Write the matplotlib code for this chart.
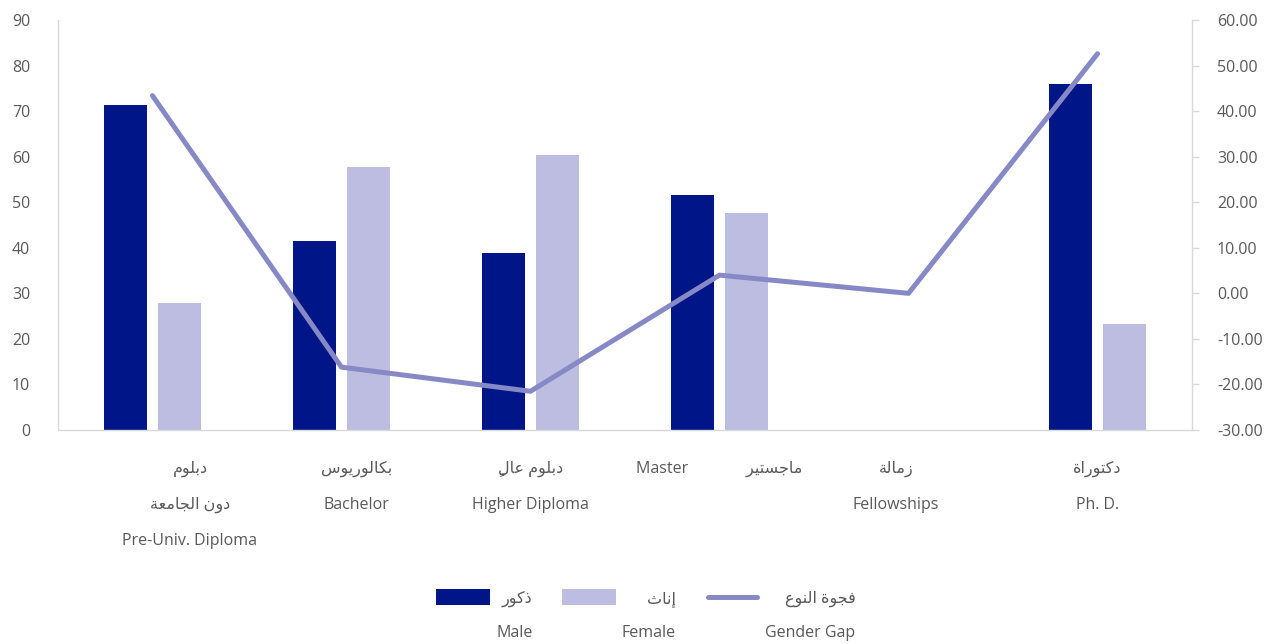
import numpy as np
import matplotlib
matplotlib.use("Agg")
import matplotlib.pyplot as plt
import matplotlib.transforms as mtransforms
from matplotlib.patches import Rectangle
from matplotlib.lines import Line2D
from matplotlib.ticker import FormatStrFormatter

# ---------------- data ----------------
cat_ar = ["دبلوم\nدون الجامعة", "بكالوريوس", "دبلوم عالٍ", "ماجستير", "زمالة", "دكتوراة"]
cat_en = ["Pre-Univ. Diploma", "Bachelor", "Higher Diploma", "Master", "Fellowships", "Ph. D."]
male = [71.3, 41.5, 38.9, 51.6, 0.0, 75.9]
female = [27.9, 57.7, 60.4, 47.6, 0.0, 23.3]
gap = [43.4, -16.2, -21.5, 4.0, 0.0, 52.6]

series_ar = ["ذكور", "إناث", "فجوة النوع"]
series_en = ["Male", "Female", "Gender Gap"]

C_MALE = "#001688"
C_FEMALE = "#BCBDE0"
C_GAP = "#8789C7"
C_TEXT = "#595959"
C_AXIS = "#D9D9D9"
FONT = ["Open Sans", "DejaVu Sans"]

# ---------------- arabic shaping (matplotlib has no bidi / shaping) ----------------
# iso, final, initial, medial
FORMS = {
    "ا": ("\uFE8D", "\uFE8E", None, None),
    "إ": ("\uFE87", "\uFE88", None, None),
    "ب": ("\uFE8F", "\uFE90", "\uFE91", "\uFE92"),
    "ة": ("\uFE93", "\uFE94", None, None),
    "ت": ("\uFE95", "\uFE96", "\uFE97", "\uFE98"),
    "ث": ("\uFE99", "\uFE9A", "\uFE9B", "\uFE9C"),
    "ج": ("\uFE9D", "\uFE9E", "\uFE9F", "\uFEA0"),
    "د": ("\uFEA9", "\uFEAA", None, None),
    "ذ": ("\uFEAB", "\uFEAC", None, None),
    "ر": ("\uFEAD", "\uFEAE", None, None),
    "ز": ("\uFEAF", "\uFEB0", None, None),
    "س": ("\uFEB1", "\uFEB2", "\uFEB3", "\uFEB4"),
    "ع": ("\uFEC9", "\uFECA", "\uFECB", "\uFECC"),
    "ف": ("\uFED1", "\uFED2", "\uFED3", "\uFED4"),
    "ك": ("\uFED9", "\uFEDA", "\uFEDB", "\uFEDC"),
    "ل": ("\uFEDD", "\uFEDE", "\uFEDF", "\uFEE0"),
    "م": ("\uFEE1", "\uFEE2", "\uFEE3", "\uFEE4"),
    "ن": ("\uFEE5", "\uFEE6", "\uFEE7", "\uFEE8"),
    "و": ("\uFEED", "\uFEEE", None, None),
    "ي": ("\uFEF1", "\uFEF2", "\uFEF3", "\uFEF4"),
}


def is_mark(c):
    return "\u064B" <= c <= "\u0652"


def shape_line(s):
    res = []
    n = len(s)
    for i, c in enumerate(s):
        if c not in FORMS:
            res.append(c)
            continue
        j = i - 1
        while j >= 0 and is_mark(s[j]):
            j -= 1
        k = i + 1
        while k < n and is_mark(s[k]):
            k += 1
        prev_join = j >= 0 and s[j] in FORMS and FORMS[s[j]][2] is not None
        next_join = k < n and s[k] in FORMS and FORMS[c][2] is not None
        iso, fin, ini, med = FORMS[c]
        if prev_join and next_join:
            res.append(med)
        elif prev_join:
            res.append(fin)
        elif next_join:
            res.append(ini)
        else:
            res.append(iso)
    # plain reversal -> visual order (marks end up just before their base)
    return "".join(reversed(res))


def ar(s):
    return "\n".join(shape_line(line) for line in s.split("\n"))


# tick labels: arabic on top, english below (Master sits on the same line)
xlabels = []
for a, e in zip(cat_ar, cat_en):
    if e == "Master":
        xlabels.append(e + "              " + ar(a))
    else:
        xlabels.append(ar(a) + "\n" + e)

# ---------------- figure ----------------
fig = plt.figure(figsize=(12.79, 6.44), dpi=100)
ax = fig.add_axes([0.0453, 0.3323, 0.8867, 0.6366])
ax2 = ax.twinx()

x = np.arange(len(cat_en))
w = 0.228
off = 0.143
ax.bar(x - off, male, w, color=C_MALE, label="male")
ax.bar(x + off, female, w, color=C_FEMALE, label="female")
ax2.plot(x, gap, color=C_GAP, lw=3.6, solid_capstyle="round", solid_joinstyle="round")

ax.set_xlim(-0.5, len(cat_en) - 0.5)
ax.set_ylim(0, 90)
ax.set_yticks(np.arange(0, 91, 10))
ax2.set_ylim(-30, 60)
ax2.set_yticks(np.arange(-30, 61, 10))
ax2.yaxis.set_major_formatter(FormatStrFormatter("%.2f"))

for a in (ax, ax2):
    for s in a.spines.values():
        s.set_color(C_AXIS)
        s.set_linewidth(1.0)
    a.spines["top"].set_visible(False)
ax.spines["right"].set_visible(False)
ax2.spines["left"].set_visible(False)
ax2.spines["bottom"].set_visible(False)

ax.set_xticks(x)
ax.set_xticklabels(xlabels, fontfamily=FONT, fontsize=11.5, color=C_TEXT,
                   linespacing=2.65)
ax.tick_params(axis="x", length=0, pad=22)
ax.tick_params(axis="y", length=0, pad=20, labelsize=11.5, labelcolor=C_TEXT)
ax2.tick_params(axis="y", length=5, width=1, color=C_AXIS, pad=13,
                labelsize=11.5, labelcolor=C_TEXT)
for t in ax.get_yticklabels() + ax2.get_yticklabels():
    t.set_fontfamily(FONT)

# the wrapped labels sit a little off-centre in the original
label_shift_pt = [27, 11, 0, 0, -9, 0]
for lab, dx in zip(ax.get_xticklabels(), label_shift_pt):
    lab.set_transform(lab.get_transform() +
                      mtransforms.ScaledTranslation(dx / 72, 0, fig.dpi_scale_trans))


# ---------------- legend (swatch sits on the arabic line) ----------------
class TopSwatch:
    def __init__(self, kind, color):
        self.kind = kind
        self.color = color

    def legend_artist(self, legend, orig_handle, fontsize, handlebox):
        x0 = -handlebox.xdescent
        wd = handlebox.width
        yc = 17.8
        if self.kind == "bar":
            art = Rectangle((x0, yc - 5.8), wd, 11.6, facecolor=self.color,
                            edgecolor="none", transform=handlebox.get_transform())
        else:
            art = Line2D([x0 + 2, x0 + wd - 2], [yc, yc], color=self.color, lw=3.6,
                         solid_capstyle="round", transform=handlebox.get_transform())
        handlebox.add_artist(art)
        return art


h_male = Rectangle((0, 0), 1, 1, color=C_MALE)
h_female = Rectangle((0, 0), 1, 1, color=C_FEMALE)
h_gap = Line2D([], [], color=C_GAP)
leg_labels = [ar(a) + "\n" + e for a, e in zip(series_ar, series_en)]
leg = fig.legend([h_male, h_female, h_gap], leg_labels, loc="lower center",
                 bbox_to_anchor=(0.505, -0.018), ncol=3, frameon=False,
                 handlelength=3.4, handletextpad=0.35, columnspacing=1.85,
                 prop={"family": FONT, "size": 11.5},
                 handler_map={h_male: TopSwatch("bar", C_MALE),
                              h_female: TopSwatch("bar", C_FEMALE),
                              h_gap: TopSwatch("line", C_GAP)})
for t in leg.get_texts():
    t.set_color(C_TEXT)
    t.set_multialignment("right")
    t.set_linespacing(2.5)

fig.savefig("out.png", dpi=100)
